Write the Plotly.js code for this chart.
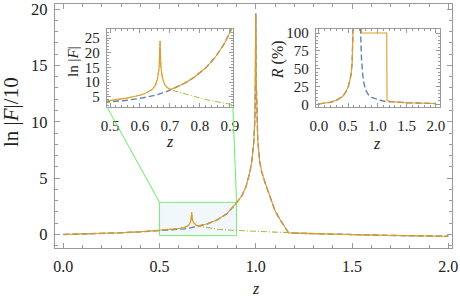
<!DOCTYPE html>
<html>
<head>
<meta charset="utf-8">
<script src="https://cdn.plot.ly/plotly-3.0.1.min.js"></script>
<style>html,body{margin:0;padding:0;background:#fff;}#chart{width:460px;height:299px;}</style>
</head>
<body>
<div id="chart"></div>
<script>
// ---------- Main panel: ln|F|/10 vs z ----------
const zMain = [0, 0.1, 0.2, 0.3, 0.4, 0.5, 0.55, 0.6, 0.63, 0.65, 0.66, 0.664, 0.667, 0.67, 0.675, 0.68, 0.69, 0.7,
  0.75, 0.8, 0.85, 0.9, 0.93, 0.95, 0.97, 0.98, 0.99, 0.995, 0.998, 1.0, 1.002, 1.005, 1.01, 1.02, 1.03, 1.05,
  1.08, 1.1, 1.13, 1.15, 1.17, 1.2, 1.3, 1.5, 1.7, 2.0];
const blueMain = [0, 0.04, 0.09, 0.15, 0.23, 0.33, 0.38, 0.45, 0.50, 0.55, 0.58, 0.59, 0.60, 0.61, 0.63, 0.65, 0.69, 0.73,
  0.95, 1.3, 1.85, 2.8, 3.5, 4.3, 5.6, 6.6, 8.3, 10.2, 13.5, 19.6, 13.8, 10.8, 8.4, 6.5, 5.6, 4.5,
  3.0, 2.1, 1.2, 0.65, 0.15, 0.12, 0.07, -0.02, -0.09, -0.16];
const orangeMain = [0, 0.04, 0.09, 0.15, 0.24, 0.37, 0.43, 0.53, 0.63, 0.80, 1.05, 1.35, 2.0, 1.3, 1.1, 0.98, 0.82, 0.75,
  0.95, 1.3, 1.85, 2.8, 3.5, 4.3, 5.6, 6.6, 8.3, 10.2, 13.5, 19.6, 13.8, 10.8, 8.4, 6.5, 5.6, 4.5,
  3.0, 2.1, 1.2, 0.65, 0.15, 0.12, 0.07, -0.02, -0.09, -0.16];
const greenMain = [0, 0.04, 0.09, 0.15, 0.24, 0.37, 0.43, 0.53, 0.63, 0.80, 1.05, 1.35, 2.0, 1.3, 1.1, 0.98, 0.82, 0.75,
  0.6, 0.47, 0.4, 0.35, 0.32, 0.3, 0.29, 0.28, 0.27, 0.27, 0.27, 0.26, 0.26, 0.26, 0.26, 0.25, 0.25, 0.24,
  0.22, 0.21, 0.19, 0.17, 0.15, 0.12, 0.07, -0.02, -0.09, -0.16];

// ---------- Inset 1: ln|F| vs z (zoom 0.5..0.9) ----------
const zIn = [0.48, 0.5, 0.55, 0.6, 0.62, 0.64, 0.652, 0.659, 0.664, 0.667, 0.67, 0.675, 0.682, 0.69, 0.7,
  0.72, 0.75, 0.78, 0.8, 0.82, 0.85, 0.88, 0.9, 0.92];
const blueIn = [3.2, 3.35, 3.8, 4.5, 4.85, 5.3, 5.6, 5.8, 5.95, 6.05, 6.15, 6.3, 6.6, 6.9, 7.35,
  8.2, 9.7, 11.6, 13.1, 14.9, 18.3, 22.8, 26.8, 31.5];
const orangeIn = [3.55, 3.75, 4.5, 5.6, 6.3, 7.5, 9.0, 11.5, 15, 24, 15, 11.5, 9.3, 8.3, 7.6,
  8.2, 9.7, 11.6, 13.1, 14.9, 18.3, 22.8, 26.8, 31.5];
const greenIn = [3.55, 3.75, 4.5, 5.6, 6.3, 7.5, 9.0, 11.5, 15, 24, 15, 11.5, 9.3, 8.3, 7.6,
  6.9, 6.0, 5.1, 4.6, 4.1, 3.5, 2.9, 2.5, 2.2];

// ---------- Inset 2: R (%) vs z ----------
const zR = [0, 0.1, 0.2, 0.3, 0.4, 0.45, 0.5, 0.53, 0.55, 0.57, 0.58, 0.59, 0.6, 0.62, 0.667, 0.7, 0.71, 0.72,
  0.73, 0.75, 0.77, 0.8, 0.85, 0.9, 1.0, 1.1, 1.16, 1.165, 1.2, 1.3, 1.5, 1.7, 2.0];
const orangeR = [0.5, 1.2, 2.8, 5.5, 10.5, 15.5, 24, 33, 42, 58, 72, 92, 115, 200, 400, 200, 150, 100,
  100, 100, 100, 100, 100, 100, 100, 100, 100, 4.8, 4.3, 3.3, 2.2, 1.6, 1.0];
const blueR = [0.5, 1.2, 2.8, 5.5, 10.5, 15.5, 24, 33, 42, 58, 72, 92, 115, 200, 400, 250, 110, 85,
  62, 42, 30, 20, 13, 9.5, 6.5, 4.5, 3.6, 3.6, 3.9, 3.3, 2.2, 1.6, 1.0];

// ---------- styling ----------
const C_BLUE = '#5E81B5', C_ORANGE = '#E19C24', C_GREEN = '#A7B83C';
const FONT = '"Liberation Serif", "Times New Roman", serif';
const FRAME = '#9a9a9a';

const xMainRange = [-0.043, 2.019], yMainRange = [-1.2, 20.45];
const in1X = [0.131, 0.448], in1Y = [0.578, 0.8975];
const in2X = [0.657, 0.970], in2Y = [0.578, 0.8975];

function ax(extra) {
  return Object.assign({
    showline: true, linecolor: FRAME, linewidth: 1.2, mirror: 'ticks',
    ticks: 'inside', tickcolor: FRAME, ticklen: 5, tickwidth: 1,
    showgrid: false, zeroline: false, fixedrange: true, ticklabeloverflow: 'allow',
    tickfont: {family: FONT, size: 16.5, color: '#222'}
  }, extra);
}

const traces = [
  {x: zMain, y: blueMain, mode: 'lines', line: {color: C_BLUE, width: 1.4, dash: '6px,3px'}, xaxis: 'x', yaxis: 'y'},
  {x: zMain, y: greenMain, mode: 'lines', line: {color: C_GREEN, width: 1.1, dash: '6px,2px,1px,2px'}, xaxis: 'x', yaxis: 'y'},
  {x: zMain, y: orangeMain, mode: 'lines', line: {color: C_ORANGE, width: 1.1}, xaxis: 'x', yaxis: 'y'},

  {x: zIn, y: blueIn, mode: 'lines', line: {color: C_BLUE, width: 1.4, dash: '6px,3px'}, xaxis: 'x2', yaxis: 'y2'},
  {x: zIn, y: greenIn, mode: 'lines', line: {color: C_GREEN, width: 1.0, dash: '6px,2px,1px,2px'}, xaxis: 'x2', yaxis: 'y2'},
  {x: zIn, y: orangeIn, mode: 'lines', line: {color: C_ORANGE, width: 1.1}, xaxis: 'x2', yaxis: 'y2'},

  {x: zR, y: blueR, mode: 'lines', line: {color: C_BLUE, width: 1.4, dash: '6px,3px'}, xaxis: 'x3', yaxis: 'y3'},
  {x: zR, y: orangeR, mode: 'lines', line: {color: C_ORANGE, width: 1.1}, xaxis: 'x3', yaxis: 'y3'}
];
traces.forEach(t => { t.showlegend = false; t.hoverinfo = 'skip'; });

// corners of inset 1 expressed in main data coordinates (for connector lines)
const mx = f => xMainRange[0] + f * (xMainRange[1] - xMainRange[0]);
const my = f => yMainRange[0] + f * (yMainRange[1] - yMainRange[0]);

const box = {x0: 0.5, x1: 0.9, y0: -0.1, y1: 2.85};

const layout = {
  width: 460, height: 299,
  margin: {l: 55, r: 8, t: 4, b: 51},
  paper_bgcolor: '#fff', plot_bgcolor: '#fff',
  showlegend: false,
  xaxis: ax({domain: [0, 1], range: xMainRange, dtick: 0.5, tick0: 0, tickformat: '.1f', ticklabelstandoff: 4,
    tickfont: {family: FONT, size: 16, color: '#222'},
    minor: {ticks: 'inside', ticklen: 3, dtick: 0.1, tickcolor: FRAME}}),
  yaxis: ax({domain: [0, 1], range: yMainRange, dtick: 5, tick0: 0, ticklabelstandoff: 3,
    minor: {ticks: 'inside', ticklen: 3, dtick: 1, tickcolor: FRAME}}),
  xaxis2: ax({domain: in1X, range: [0.49, 0.91], dtick: 0.1, tick0: 0.5, tickformat: '.1f', anchor: 'y2',
    ticklen: 4, ticklabelstandoff: 5, tickfont: {family: FONT, size: 15, color: '#222'},
    minor: {ticks: 'inside', ticklen: 2, dtick: 0.02, tickcolor: FRAME}}),
  yaxis2: ax({domain: in1Y, range: [1.6, 28.05], dtick: 5, tick0: 0, anchor: 'x2',
    ticklen: 4, ticklabelstandoff: 3, tickfont: {family: FONT, size: 15, color: '#222'},
    minor: {ticks: 'inside', ticklen: 2, dtick: 1, tickcolor: FRAME}}),
  xaxis3: ax({domain: in2X, range: [-0.05, 2.07], dtick: 0.5, tick0: 0, tickformat: '.1f', anchor: 'y3',
    ticklen: 4, ticklabelstandoff: 5, tickfont: {family: FONT, size: 15, color: '#222'},
    minor: {ticks: 'inside', ticklen: 2, dtick: 0.1, tickcolor: FRAME}}),
  yaxis3: ax({domain: in2Y, range: [-3.8, 105.6], dtick: 25, tick0: 0, anchor: 'x3',
    ticklen: 4, ticklabelstandoff: 3, tickfont: {family: FONT, size: 15, color: '#222'},
    minor: {ticks: 'inside', ticklen: 2, dtick: 5, tickcolor: FRAME}}),
  shapes: [
    {type: 'rect', xref: 'x', yref: 'y', x0: box.x0, x1: box.x1, y0: box.y0, y1: box.y1,
      fillcolor: '#f2f7fc', line: {color: '#77ee77', width: 1}, layer: 'below'},
    {type: 'line', xref: 'x', yref: 'y', x0: box.x0, y0: box.y1, x1: mx(in1X[0]), y1: my(in1Y[0]),
      line: {color: '#66ee66', width: 1}},
    {type: 'line', xref: 'x', yref: 'y', x0: box.x1, y0: box.y1, x1: mx(in1X[1]), y1: my(in1Y[0]),
      line: {color: '#66ee66', width: 1}}
  ],
  annotations: [
    {text: 'ln |<i>F</i>|/10', xref: 'paper', yref: 'paper', x: -0.111, y: 0.557, textangle: -90,
      showarrow: false, font: {family: FONT, size: 21, color: '#222'}, xanchor: 'center', yanchor: 'middle'},
    {text: '<i>z</i>', xref: 'paper', yref: 'paper', x: 0.506, y: -0.209, showarrow: false,
      font: {family: FONT, size: 16, color: '#222'}, xanchor: 'center', yanchor: 'bottom'},
    {text: 'ln |<i>F</i>|', xref: 'paper', yref: 'paper', x: 0.045, y: 0.766, textangle: -90,
      showarrow: false, font: {family: FONT, size: 15, color: '#222'}, xanchor: 'center', yanchor: 'middle'},
    {text: '<i>z</i>', xref: 'paper', yref: 'paper', x: 0.29, y: 0.4385, showarrow: false,
      font: {family: FONT, size: 16, color: '#222'}, xanchor: 'center', yanchor: 'middle'},
    {text: '<i>R</i> (%)', xref: 'paper', yref: 'paper', x: 0.562, y: 0.770, textangle: -90,
      showarrow: false, font: {family: FONT, size: 16, color: '#222'}, xanchor: 'center', yanchor: 'middle'},
    {text: '<i>z</i>', xref: 'paper', yref: 'paper', x: 0.811, y: 0.430, showarrow: false,
      font: {family: FONT, size: 16, color: '#222'}, xanchor: 'center', yanchor: 'middle'}
  ]
};

Plotly.newPlot('chart', traces, layout, {staticPlot: true, displayModeBar: false});
</script>
</body>
</html>
